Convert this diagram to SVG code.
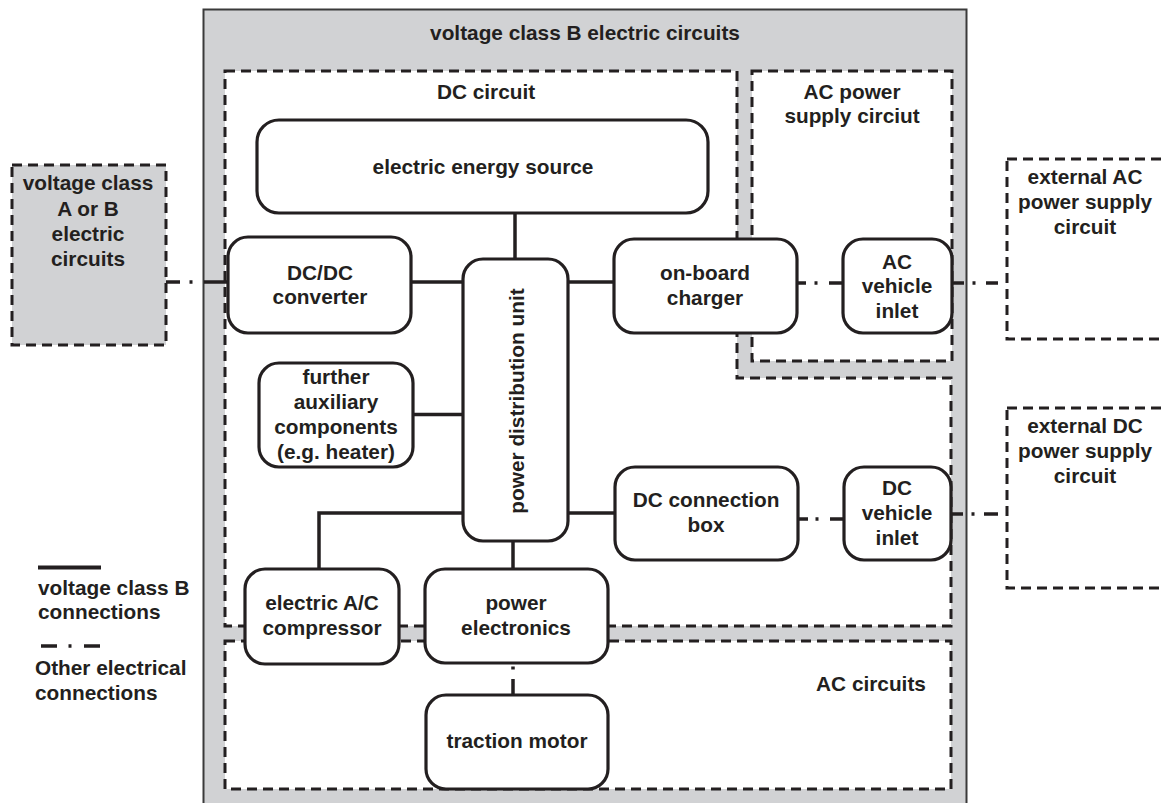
<svg xmlns="http://www.w3.org/2000/svg" width="1161" height="803" viewBox="0 0 1161 803">
<style>
text{font-family:"Liberation Sans",Arial,sans-serif;font-weight:bold;font-size:20.8px;fill:#231f20;text-anchor:middle}
.lt{text-anchor:start}
.region{fill:#fff;stroke:#231f20;stroke-width:3;stroke-dasharray:10 6}
.gregion{fill:#d1d2d4;stroke:#231f20;stroke-width:3;stroke-dasharray:10 6}
.box{fill:#fff;stroke:#231f20;stroke-width:3.2}
.hv{fill:none;stroke:#231f20;stroke-width:3.5}
.oc{fill:none;stroke:#231f20;stroke-width:3.5}
</style>
<rect width="1161" height="803" fill="#fff"/>

<g id="vcB">
<rect x="203.5" y="9.5" width="763" height="800" fill="#d1d2d4" stroke="#3a3a3a" stroke-width="2"/>
<text x="585" y="40">voltage class B electric circuits</text>
</g>

<g id="dc-circuit">
<path class="region" d="M225 71 H737 V378 H951 V626 H225 Z"/>
<text x="486" y="99">DC circuit</text>
</g>

<g id="ac-supply">
<rect class="region" x="752" y="71" width="200" height="290"/>
<text x="852" y="99">AC power</text>
<text x="852" y="123">supply circiut</text>
</g>

<g id="ac-circuits">
<rect class="region" x="225" y="641" width="726" height="148"/>
<text x="871" y="691">AC circuits</text>
</g>

<g id="vcAB">
<rect class="gregion" x="12" y="165" width="154" height="180"/>
<text x="88" y="190">voltage class</text>
<text x="88" y="216">A or B</text>
<text x="88" y="241">electric</text>
<text x="88" y="266">circuits</text>
</g>

<g id="ext-ac">
<rect class="region" x="1007" y="159" width="170" height="180"/>
<text x="1085" y="184">external AC</text>
<text x="1085" y="209">power supply</text>
<text x="1085" y="234">circuit</text>
</g>

<g id="ext-dc">
<rect class="region" x="1007" y="408" width="170" height="180"/>
<text x="1085" y="433">external DC</text>
<text x="1085" y="458">power supply</text>
<text x="1085" y="483">circuit</text>
</g>

<g id="connectors">
<path class="hv" d="M515 213 V259"/>
<path class="hv" d="M411 282 H463"/>
<path class="hv" d="M568 282 H614"/>
<path class="hv" d="M413 414.5 H463"/>
<path class="hv" d="M568 513 H615"/>
<path class="hv" d="M463 513 H319 V569"/>
<path class="hv" d="M513 541 V569"/>
<path class="oc" d="M166 282 H180 M189.5 282 H192.5 M204 282 H228"/>
<path class="oc" d="M797 283 H806 M814.5 283 H817.5 M829 283 H843"/>
<path class="oc" d="M952 283 H964 M972.5 283 H975.5 M986 283 H998"/>
<path class="oc" d="M798 519 H808 M815.5 519 H818.5 M830 519 H844"/>
<path class="oc" d="M951 514 H963 M971.5 514 H974.5 M984 514 H998"/>
<path class="oc" d="M513 666.5 V669.5 M513 679 V695"/>
</g>

<g id="energy-source">
<rect class="box" x="257" y="120" width="451" height="93" rx="22"/>
<text x="483" y="174">electric energy source</text>
</g>

<g id="dcdc">
<rect class="box" x="228" y="237" width="183" height="96" rx="20"/>
<text x="320" y="280">DC/DC</text>
<text x="320" y="304">converter</text>
</g>

<g id="pdu">
<rect class="box" x="463" y="259" width="105" height="282" rx="20"/>
<text transform="translate(524 401) rotate(-90)">power distribution unit</text>
</g>

<g id="charger">
<rect class="box" x="614" y="239" width="183" height="94" rx="20"/>
<text x="705" y="280">on-board</text>
<text x="705" y="305">charger</text>
</g>

<g id="ac-inlet">
<rect class="box" x="843" y="239" width="109" height="94" rx="20"/>
<text x="897" y="269">AC</text>
<text x="897" y="293">vehicle</text>
<text x="897" y="318">inlet</text>
</g>

<g id="aux">
<rect class="box" x="259" y="363" width="154" height="104" rx="20"/>
<text x="336" y="384">further</text>
<text x="336" y="409">auxiliary</text>
<text x="336" y="434">components</text>
<text x="336" y="459">(e.g. heater)</text>
</g>

<g id="dc-box">
<rect class="box" x="615" y="467" width="183" height="93" rx="20"/>
<text x="706" y="507">DC connection</text>
<text x="706" y="532">box</text>
</g>

<g id="dc-inlet">
<rect class="box" x="844" y="467" width="107" height="93" rx="20"/>
<text x="897" y="495">DC</text>
<text x="897" y="520">vehicle</text>
<text x="897" y="545">inlet</text>
</g>

<g id="compressor">
<rect class="box" x="245" y="569" width="154" height="95" rx="20"/>
<text x="322" y="610">electric A/C</text>
<text x="322" y="635">compressor</text>
</g>

<g id="power-electronics">
<rect class="box" x="425" y="569" width="183" height="94" rx="20"/>
<text x="516" y="610">power</text>
<text x="516" y="635">electronics</text>
</g>

<g id="traction-motor">
<rect class="box" x="426" y="695" width="182" height="94" rx="20"/>
<text x="517" y="748">traction motor</text>
</g>

<g id="legend">
<path d="M38 567.5 H101" stroke="#231f20" stroke-width="4"/>
<text class="lt" x="38" y="595">voltage class B</text>
<text class="lt" x="38" y="619">connections</text>
<path class="oc" d="M41 646 H57 M68.5 646 H71.5 M84 646 H100" stroke-width="4"/>
<text class="lt" x="35" y="675">Other electrical</text>
<text class="lt" x="35" y="700">connections</text>
</g>
</svg>
